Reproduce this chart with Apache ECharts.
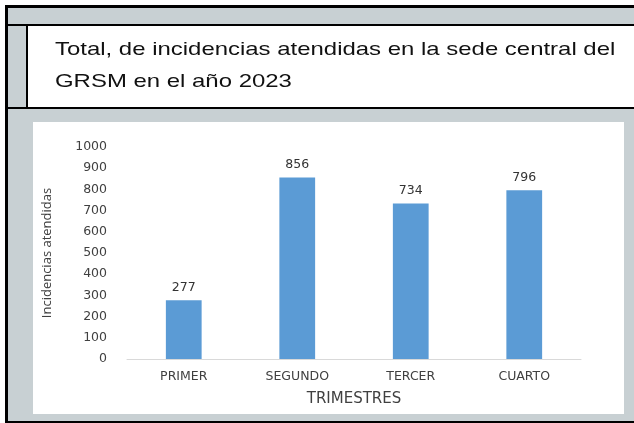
<!DOCTYPE html>
<html>
<head>
<meta charset="utf-8">
<script src="https://cdn.jsdelivr.net/npm/echarts@6/dist/echarts.min.js"></script>
<style>
  html, body { margin: 0; padding: 0; background: #ffffff; }
  #chart { width: 634px; height: 423px; }
</style>
</head>
<body>
<div id="chart"></div>
<script>
// Incidencias atendidas por trimestre, sede central GRSM, 2023
const trimestres = ['PRIMER', 'SEGUNDO', 'TERCER', 'CUARTO'];
const incidencias = [277, 856, 734, 796];
const yTicks = [0, 100, 200, 300, 400, 500, 600, 700, 800, 900, 1000];

const tituloLineas = [
  'Total, de incidencias atendidas en la sede central del',
  'GRSM en el año 2023'
];

const GRIS = '#c8d0d3';
const NEGRO = '#000000';

// Table frame around the chart (document cell layout)
function marco() {
  const r = (x, y, w, h, fill) => ({
    type: 'rect', silent: true, z: -10,
    shape: { x, y, width: w, height: h },
    style: { fill }
  });
  return [
    r(5, 5, 629, 418, GRIS),
    r(5, 5, 629, 3, NEGRO),
    r(5, 24, 629, 2, NEGRO),
    r(28, 26, 606, 81, '#ffffff'),
    r(26, 26, 2, 81, NEGRO),
    r(5, 107, 629, 2, NEGRO),
    r(33, 122, 591, 292, '#ffffff'),
    r(5, 421, 629, 2, NEGRO),
    r(5, 5, 3, 418, NEGRO)
  ];
}

// Caption in the header cell, slightly widened like the document font
function titulo() {
  return tituloLineas.map((linea, i) => ({
    type: 'text', silent: true, z: 10,
    x: 55, y: 40 + i * 32,
    scaleX: 1.26,
    style: {
      text: linea,
      fontFamily: '"Liberation Sans", Arial, sans-serif',
      fontSize: 19,
      fill: '#111111'
    }
  }));
}

const chart = echarts.init(document.getElementById('chart'), null, { renderer: 'canvas' });

chart.setOption({
  backgroundColor: '#ffffff',
  animation: false,
  graphic: marco().concat(titulo()),
  grid: { left: 127, right: 53, top: 147, bottom: 64, containLabel: false },
  xAxis: {
    type: 'category',
    data: trimestres,
    name: 'TRIMESTRES',
    nameLocation: 'middle',
    nameGap: 33,
    nameTextStyle: {
      fontFamily: '"DejaVu Sans", sans-serif',
      fontSize: 15,
      color: '#404040'
    },
    axisLine: { lineStyle: { color: '#d9d9d9', width: 1 } },
    axisTick: { show: false },
    axisLabel: {
      margin: 11,
      fontFamily: '"DejaVu Sans", sans-serif',
      fontSize: 12.5,
      color: '#404040'
    }
  },
  yAxis: {
    type: 'value',
    min: yTicks[0],
    max: yTicks[yTicks.length - 1],
    interval: yTicks[1] - yTicks[0],
    name: 'Incidencias atendidas',
    nameLocation: 'middle',
    nameRotate: 90,
    nameGap: 73,
    nameTextStyle: {
      fontFamily: '"Open Sans", "Noto Sans", sans-serif',
      fontSize: 13,
      color: '#404040'
    },
    axisLine: { show: false },
    axisTick: { show: false },
    splitLine: { show: false },
    axisLabel: {
      margin: 20,
      formatter: (v) => String(v),
      fontFamily: '"DejaVu Sans", sans-serif',
      fontSize: 12.5,
      color: '#404040'
    }
  },
  series: [{
    type: 'bar',
    data: incidencias,
    barWidth: '31.5%',
    itemStyle: { color: '#5b9bd5' },
    label: {
      show: true,
      position: 'top',
      distance: 6,
      fontFamily: '"DejaVu Sans", sans-serif',
      fontSize: 12.5,
      color: '#333333'
    }
  }]
});
</script>
</body>
</html>
